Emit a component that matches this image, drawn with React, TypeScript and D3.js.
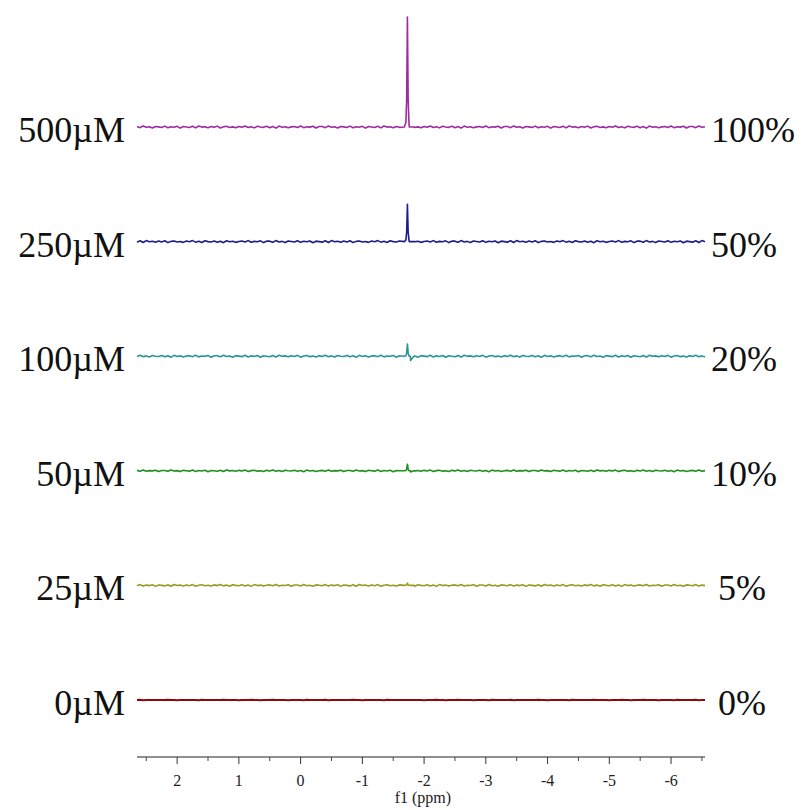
import React from 'react';
import * as d3 from 'd3';

// spectra, top to bottom
const concentrations = ['500µM', '250µM', '100µM', '50µM', '25µM', '0µM'];
const percents = ['100%', '50%', '20%', '10%', '5%', '0%'];
const colors = ['#a02aa0', '#1c1c8e', '#2a9595', '#1f8f1f', '#9a9a22', '#8e0a0a'];
const peakHeights = [100, 34, 11, 6, 2, 0];
const peakDips = [0, 0, -4, -1, 0, 0];
const noiseAmp = [1, 1, 1, 0.8, 0.9, 0.15];

const peakPpm = -1.73;
// peak profile: [ppm offset, relative height]
const peakShape = [
    [-0.05, 0], [-0.025, 0.04], [-0.012, 0.25], [0, 1], [0.012, 0.25], [0.025, 0.04], [0.05, 0],
];
// dispersive tail just upfield of the peak
const dipShape = [[0.03, 0], [0.05, 1], [0.08, 0.4], [0.11, 0]];

// baseline wiggle (intensity units), sampled every 0.05 ppm
const baselineNoise = [
    0.4, -0.6, 0.9, -0.3, 0.2, -0.9, 0.5, 0.1, -0.4, 0.8, -0.7, 0.3, -0.2, 0.6, -1.0, 0.4,
    0.0, -0.5, 0.7, -0.8, 0.9, -0.1, 0.3, -0.6, 0.5, -0.3, 0.8, -0.9, 0.2, 0.6, -0.4, 0.1,
    -0.7, 0.5, -0.2, 0.9, -0.5, 0.3, -0.8, 0.7, 0.0, -0.3, 0.6, -0.6, 0.4, -1.0, 0.8, -0.2,
    0.3, -0.7, 0.1, 0.5, -0.4, 0.9, -0.6, 0.2, -0.1, 0.7, -0.9, 0.4,
];

const majorTicks = [2, 1, 0, -1, -2, -3, -4, -5, -6];
const minorTicks = [2.5, 1.5, 0.5, -0.5, -1.5, -2.5, -3.5, -4.5, -5.5, -6.5];
const ppmDomain = [2.65, -6.55];

const width = 805;
const height = 810;
const axisY = 757;
const serif = '"Liberation Serif", "Times New Roman", serif';

const App = () => {
    const x = d3.scaleLinear().domain(ppmDomain).range([137, 705]);
    const yBase = d3.scalePoint().domain(concentrations).range([127, 700]);
    const pxPerUnit = 1.1;

    const gridPpm = d3.range(ppmDomain[0], ppmDomain[1] - 0.001, -0.05);

    const makePoints = (i: number) => {
        const pts: [number, number][] = [];
        gridPpm.forEach((p, k) => {
            if (Math.abs(p - peakPpm) < 0.12) return;
            const n = baselineNoise[(k + i * 17) % baselineNoise.length] * noiseAmp[i];
            pts.push([p, n]);
        });
        peakShape.forEach(([dp, h]) => pts.push([peakPpm + dp, h * peakHeights[i]]));
        dipShape.forEach(([dp, h]) => pts.push([peakPpm - dp, h * peakDips[i]]));
        pts.sort((a, b) => b[0] - a[0]);
        return pts;
    };

    return (
        <svg width={width} height={height} style={{ position: 'absolute', left: 0, top: 0, background: '#fff' }}>
            {concentrations.map((c, i) => {
                const y0 = yBase(c) as number;
                const line = d3.line<[number, number]>()
                    .x(d => x(d[0]))
                    .y(d => y0 - d[1] * pxPerUnit);
                return (
                    <g key={c}>
                        <path d={line(makePoints(i)) || ''} fill="none" stroke={colors[i]}
                            strokeWidth={i === 5 ? 2 : 1.6} strokeLinejoin="round" />
                        <text x={125} y={y0 + 15} textAnchor="end" fontFamily={serif} fontSize={36} fill="#111">{c}</text>
                        <text x={i >= 4 ? 718 : 711} y={y0 + 15} textAnchor="start" fontFamily={serif} fontSize={36} fill="#111">{percents[i]}</text>
                    </g>
                );
            })}

            {/* ppm axis */}
            <g fontFamily={serif} fill="#222">
                <line x1={x(ppmDomain[0])} x2={x(ppmDomain[1])} y1={axisY} y2={axisY} stroke="#222" strokeWidth={1.2} />
                {minorTicks.map(t => (
                    <line key={'m' + t} x1={x(t)} x2={x(t)} y1={axisY} y2={axisY + 4} stroke="#444" />
                ))}
                {majorTicks.map(t => (
                    <g key={t}>
                        <line x1={x(t)} x2={x(t)} y1={axisY} y2={axisY + 7} stroke="#333" />
                        <text x={x(t)} y={axisY + 29} textAnchor="middle" fontSize={16}>{String(t)}</text>
                    </g>
                ))}
                <text x={x(-1.98)} y={axisY + 46} textAnchor="middle" fontSize={16}>f1 (ppm)</text>
            </g>
        </svg>
    );
};

export default App;
